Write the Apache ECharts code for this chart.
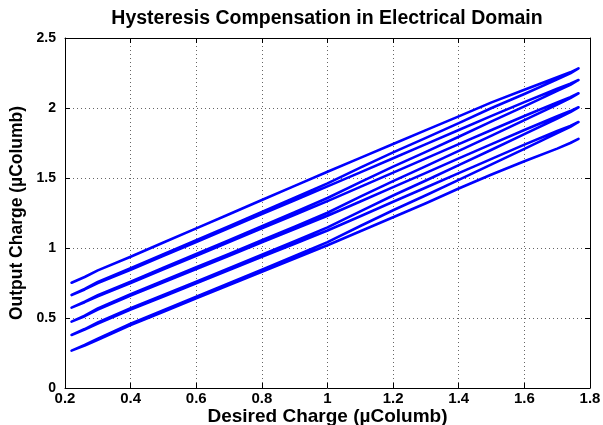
<!DOCTYPE html>
<html><head><meta charset="utf-8">
<script src="https://cdn.jsdelivr.net/npm/echarts@6/dist/echarts.min.js"></script>
<style>html,body{margin:0;padding:0;background:#fff}#c{width:603px;height:425px}</style>
</head><body><div id="c"></div>
<script>
// Ascending branches (desired charge rising)
const upX = [0.22,0.26,0.3,0.4,0.5,0.6,0.7,0.8,0.9,1.0,1.1,1.2,1.3,1.4,1.5,1.6,1.7,1.74,1.765];
const up0 = [0.267,0.303,0.345,0.45,0.545,0.64,0.735,0.83,0.925,1.02,1.12,1.22,1.32,1.425,1.525,1.62,1.71,1.75,1.78];
const up1 = [0.379,0.417,0.46,0.56,0.654,0.748,0.843,0.937,1.03,1.125,1.227,1.33,1.432,1.535,1.637,1.738,1.836,1.872,1.90];
const up2 = [0.474,0.513,0.56,0.66,0.755,0.85,0.945,1.04,1.135,1.23,1.332,1.435,1.537,1.64,1.742,1.843,1.941,1.978,2.005];
const up3 = [0.574,0.613,0.655,0.75,0.848,0.945,1.043,1.14,1.238,1.335,1.437,1.538,1.64,1.742,1.843,1.943,2.04,2.078,2.105];
const up4 = [0.664,0.704,0.75,0.845,0.944,1.043,1.142,1.242,1.341,1.44,1.54,1.641,1.742,1.843,1.944,2.042,2.138,2.173,2.20];
const up5 = [0.752,0.793,0.84,0.938,1.039,1.14,1.241,1.343,1.444,1.545,1.644,1.743,1.842,1.94,2.04,2.13,2.22,2.255,2.283];
// Descending branches (desired charge falling)
const downX = [1.765,1.74,1.7,1.6,1.5,1.4,1.3,1.2,1.1,1.0,0.9,0.8,0.7,0.6,0.5,0.4,0.3,0.26,0.22];
const down1 = [1.90,1.865,1.82,1.708,1.597,1.487,1.377,1.27,1.157,1.042,0.943,0.845,0.748,0.652,0.556,0.46,0.353,0.307,0.267];
const down2 = [2.005,1.971,1.925,1.813,1.702,1.592,1.482,1.375,1.262,1.147,1.048,0.952,0.856,0.76,0.665,0.57,0.468,0.421,0.379];
const down3 = [2.105,2.071,2.024,1.913,1.803,1.694,1.585,1.478,1.367,1.252,1.153,1.055,0.958,0.862,0.766,0.67,0.568,0.517,0.474];
const down4 = [2.20,2.166,2.122,2.012,1.904,1.795,1.687,1.581,1.47,1.357,1.256,1.155,1.056,0.957,0.859,0.76,0.663,0.617,0.574];
const down5 = [2.283,2.248,2.204,2.10,2.0,1.892,1.787,1.683,1.574,1.462,1.359,1.257,1.155,1.055,0.955,0.855,0.758,0.708,0.664];

const titleText = 'Hysteresis Compensation in Electrical Domain';
const xName = 'Desired Charge (\u00b5Columb)';
const yName = 'Output Charge (\u00b5Columb)';

const branches = [[upX,up5],[downX,down5],[upX,up4],[downX,down4],[upX,up3],[downX,down3],
                  [upX,up2],[downX,down2],[upX,up1],[downX,down1],[upX,up0]];
const path = [];
branches.forEach(([xs,ys]) => xs.forEach((x,i) => path.push([x, ys[i]])));

const font = 'Arial, "Liberation Sans", Helvetica, sans-serif';
const chart = echarts.init(document.getElementById('c'));
const frameAxis = {
  axisLine:{show:true,onZero:false,lineStyle:{color:'#000',width:1}},
  axisTick:{show:true,inside:true,length:5,lineStyle:{color:'#000',width:1}}
};
const grid = {show:true,lineStyle:{color:'#666',width:1,type:[1,3]}};
chart.setOption({
  animation:false,
  graphic:[{type:'text',x:327,y:19,style:{text:titleText,font:'bold 19.5px '+font,fill:'#000',
    textAlign:'center',align:'center',textVerticalAlign:'middle',verticalAlign:'middle'}}],
  grid:{left:65,right:13,top:38,bottom:37,containLabel:false,outerBoundsMode:'none'},
  xAxis:[
    Object.assign({type:'value',min:0.2,max:1.8,interval:0.2,position:'bottom',
      name:xName,nameLocation:'middle',nameGap:19,nameMoveOverlap:false,
      nameTextStyle:{color:'#000',fontSize:19,fontWeight:'bold',fontFamily:font},
      axisLabel:{margin:3,color:'#000',fontSize:15,fontWeight:'bold',fontFamily:font},
      splitLine:grid}, frameAxis),
    Object.assign({type:'value',min:0.2,max:1.8,interval:0.2,position:'top',
      axisLabel:{show:false},splitLine:{show:false}}, frameAxis)
  ],
  yAxis:[
    Object.assign({type:'value',min:0,max:2.5,interval:0.5,position:'left',
      name:yName,nameLocation:'middle',nameGap:39,nameMoveOverlap:false,
      nameTextStyle:{color:'#000',fontSize:17.5,fontWeight:'bold',fontFamily:font},
      axisLabel:{margin:9,color:'#000',fontSize:14,fontWeight:'bold',fontFamily:font},
      splitLine:grid}, frameAxis),
    Object.assign({type:'value',min:0,max:2.5,interval:0.5,position:'right',
      axisLabel:{show:false},splitLine:{show:false}}, frameAxis)
  ],
  series:[{type:'line',data:path,showSymbol:false,symbol:'none',
    lineStyle:{color:'#0000ff',width:2.6,join:'round',cap:'round'},z:3}]
});
</script></body></html>
